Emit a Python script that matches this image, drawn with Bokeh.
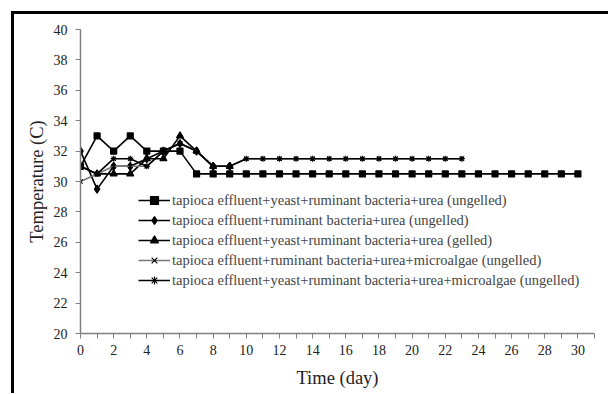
from bokeh.plotting import figure
from bokeh.models import FixedTicker, Legend, LegendItem, ColumnDataSource, Div
from bokeh.layouts import column, row
from bokeh.embed import file_html
from bokeh.resources import INLINE

days_s1 = list(range(0, 31))
temp_s1 = [31, 33, 32, 33, 32, 32, 32] + [30.5] * 24

days_s2 = list(range(0, 10))
temp_s2 = [32, 29.5, 31, 31, 31.5, 32, 32.5, 32, 31, 31]

days_s3 = list(range(0, 10))
temp_s3 = [31, 30.5, 30.5, 30.5, 31.5, 31.5, 33, 32, 31, 31]

days_s4 = list(range(0, 24))
temp_s4 = [30, 30.5, 31, 31, 31, 32, 32.5, 32, 31, 31] + [31.5] * 14

days_s5 = list(range(0, 24))
temp_s5 = [31, 30.5, 31.5, 31.5, 31, 32, 32.5, 32, 31, 31] + [31.5] * 14

labels = [
    "tapioca effluent+yeast+ruminant bacteria+urea (ungelled)",
    "tapioca effluent+ruminant bacteria+urea (ungelled)",
    "tapioca effluent+yeast+ruminant bacteria+urea (gelled)",
    "tapioca effluent+ruminant bacteria+urea+microalgae (ungelled)",
    "tapioca effluent+yeast+ruminant bacteria+urea+microalgae (ungelled)",
]

FONT = "Liberation Serif"

p = figure(width=590, height=377, output_backend="svg", toolbar_location=None,
           x_range=(0, 31), y_range=(20, 40), margin=0,
           min_border_left=66, min_border_right=10, min_border_top=15, min_border_bottom=58)
p.outline_line_color = None
p.xgrid.visible = False
p.ygrid.visible = False

series = [
    (days_s1, temp_s1, "square", 6, "black"),
    (days_s2, temp_s2, "diamond", 8, "black"),
    (days_s3, temp_s3, "triangle", 7, "black"),
    (days_s4, temp_s4, "x", 6, "#777777"),
    (days_s5, temp_s5, "asterisk", 6, "black"),
]
items = []
for (xs, ys, mk, sz, col), lab in zip(series, labels):
    src = ColumnDataSource(dict(x=xs, y=ys))
    r1 = p.line("x", "y", source=src, line_color=col, line_width=1.6)
    r2 = p.scatter("x", "y", source=src, marker=mk, size=sz, fill_color="black",
                   line_color="black", line_width=1.2)
    items.append(LegendItem(label=lab, renderers=[r1, r2]))

legend = Legend(items=items, location=(58, 43), padding=0, margin=0,
                border_line_color=None, background_fill_alpha=0,
                label_text_font=FONT, label_text_font_size="14.5px",
                label_height=20, glyph_height=20, glyph_width=32, spacing=0,
                label_standoff=2)
p.add_layout(legend)

p.xaxis.ticker = FixedTicker(ticks=list(range(0, 31, 2)), minor_ticks=list(range(1, 32, 2)))
p.yaxis.ticker = FixedTicker(ticks=list(range(20, 41, 2)))
for ax in (p.xaxis[0], p.yaxis[0]):
    ax.axis_line_color = "#808080"
    ax.axis_line_width = 1.5
    ax.major_tick_line_color = "#808080"
    ax.minor_tick_line_color = "#808080"
    ax.major_tick_in = 0
    ax.major_tick_out = 5
    ax.minor_tick_in = 0
    ax.minor_tick_out = 5
    ax.major_label_text_font = FONT
    ax.major_label_text_font_size = "14px"
    ax.major_label_text_color = "#222222"
    ax.axis_label_text_font = FONT
    ax.axis_label_text_font_size = "18.5px"
    ax.axis_label_text_font_style = "normal"
    ax.axis_label_text_color = "#222222"
p.yaxis.minor_tick_out = 0
p.yaxis.major_label_standoff = 8
p.xaxis.major_label_standoff = 6
p.xaxis.axis_label = "Time (day)"
p.yaxis.axis_label = "Temperature (C)"
p.xaxis.axis_label_standoff = 10
p.yaxis.axis_label_standoff = 4

# outer frame of the original figure: thick top and left edges
top_edge = Div(text="", width=597, height=3, margin=(11, 0, 0, 11),
               styles={"background-color": "black"})
left_edge = Div(text="", width=3, height=379, margin=(0, 0, 0, 11),
                styles={"background-color": "black"})
layout = column(top_edge, row(left_edge, p, spacing=0), spacing=0)

open("out.html", "w").write(file_html(layout, INLINE))
